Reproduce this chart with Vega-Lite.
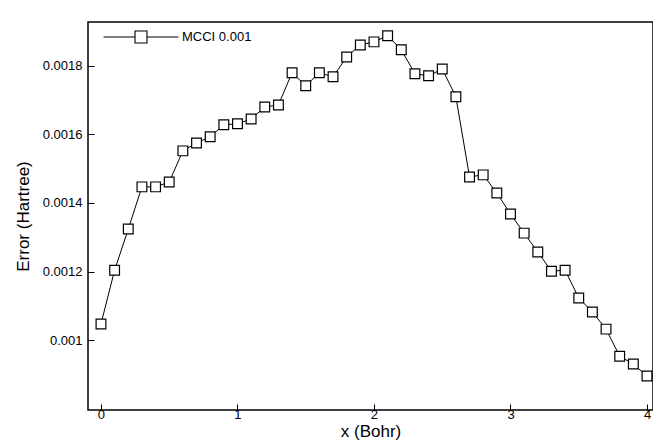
{
  "$schema": "https://vega.github.io/schema/vega-lite/v6.json",
  "width": 565,
  "height": 388,
  "autosize": "none",
  "padding": {"left": 88, "top": 22, "right": 0, "bottom": 36},
  "background": "white",
  "config": {
    "view": {"stroke": "black", "strokeWidth": 1.5},
    "axis": {"labelFont": "Liberation Sans", "titleFont": "Liberation Sans", "labelFontSize": 13, "titleFontSize": 17, "titleFontWeight": "normal", "labelColor": "black", "titleColor": "black", "tickColor": "black", "domain": false, "grid": false, "tickSize": -6}
  },
  "data": {"values": [
    {"x": 0, "e": 0.001047}, {"x": 0.1, "e": 0.001204}, {"x": 0.2, "e": 0.001324}, {"x": 0.3, "e": 0.001447},
    {"x": 0.4, "e": 0.001447}, {"x": 0.5, "e": 0.001461}, {"x": 0.6, "e": 0.001552}, {"x": 0.7, "e": 0.001575},
    {"x": 0.8, "e": 0.001593}, {"x": 0.9, "e": 0.001628}, {"x": 1.0, "e": 0.001631}, {"x": 1.1, "e": 0.001645},
    {"x": 1.2, "e": 0.00168}, {"x": 1.3, "e": 0.001686}, {"x": 1.4, "e": 0.00178}, {"x": 1.5, "e": 0.001742},
    {"x": 1.6, "e": 0.00178}, {"x": 1.7, "e": 0.001768}, {"x": 1.8, "e": 0.001826}, {"x": 1.9, "e": 0.001861},
    {"x": 2.0, "e": 0.00187}, {"x": 2.1, "e": 0.001888}, {"x": 2.2, "e": 0.001847}, {"x": 2.3, "e": 0.001777},
    {"x": 2.4, "e": 0.001771}, {"x": 2.5, "e": 0.001791}, {"x": 2.6, "e": 0.00171}, {"x": 2.7, "e": 0.001476},
    {"x": 2.8, "e": 0.001482}, {"x": 2.9, "e": 0.001429}, {"x": 3.0, "e": 0.001368}, {"x": 3.1, "e": 0.001312},
    {"x": 3.2, "e": 0.001257}, {"x": 3.3, "e": 0.001201}, {"x": 3.4, "e": 0.001204}, {"x": 3.5, "e": 0.001123},
    {"x": 3.6, "e": 0.001082}, {"x": 3.7, "e": 0.001032}, {"x": 3.8, "e": 0.000953}, {"x": 3.9, "e": 0.00093},
    {"x": 4.0, "e": 0.000895}
  ]},
  "transform": [{"calculate": "'MCCI 0.001'", "as": "s"}],
  "encoding": {
    "x": {"field": "x", "type": "quantitative", "title": "x (Bohr)", "scale": {"domain": [-0.095, 4.044], "nice": false, "zero": false}, "axis": {"values": [0, 1, 2, 3, 4], "labelPadding": 4, "titlePadding": 2}},
    "y": {"field": "e", "type": "quantitative", "title": "Error (Hartree)", "scale": {"domain": [0.000796, 0.001928], "nice": false, "zero": false}, "axis": {"values": [0.001, 0.0012, 0.0014, 0.0016, 0.0018], "labelExpr": "format(datum.value, '~g')", "labelPadding": 12, "titlePadding": 10}},
    "color": {"field": "s", "type": "nominal", "scale": {"range": ["black"]},
      "legend": {"title": null, "orient": "none", "legendX": 15, "legendY": -23, "symbolType": "M-1,0 L-0.16,0 M0.16,0 L1,0 M-0.16,-0.16 L0.16,-0.16 L0.16,0.16 L-0.16,0.16 Z", "symbolSize": 5600, "symbolStrokeWidth": 1.1, "symbolFillColor": "white", "labelFont": "Liberation Sans", "labelFontSize": 13, "labelColor": "black", "labelOffset": 3}}
  },
  "layer": [
    {"mark": {"type": "line", "strokeWidth": 1}},
    {"mark": {"type": "point", "shape": "square", "filled": false, "fill": "white", "fillOpacity": 1, "size": 95, "strokeWidth": 1.2, "opacity": 1}}
  ]
}
